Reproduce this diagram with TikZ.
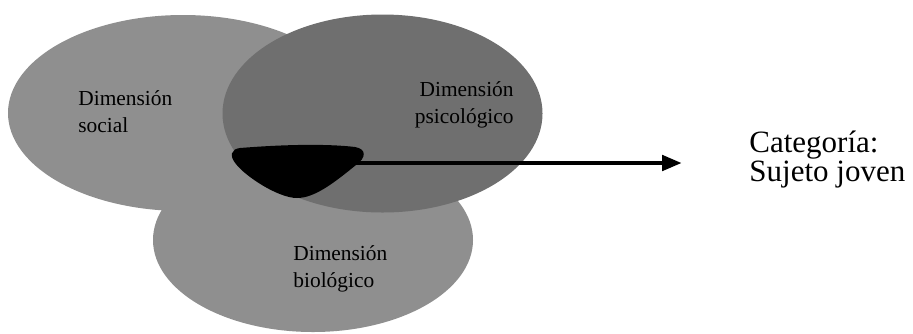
\documentclass[tikz,border=0pt]{standalone}
\usepackage{fontspec}
\setmainfont{Liberation Serif}
\usepackage{tikz}
\usetikzlibrary{arrows.meta}
\definecolor{dimlight}{gray}{0.56}
\definecolor{dimdark}{gray}{0.435}
\newcommand{\dset}[4]{\fill[#4] (#1) ellipse [x radius=#2, y radius=#3];}
\newcommand{\dlabel}[4]{%
  \node[font=\fontsize{10.7}{13.5}\selectfont,inner sep=0pt,align=#3,anchor=base #4] (#1) at (#2)}

\begin{document}
\begin{tikzpicture}[x=0.5pt,y=-0.5pt]
  \useasboundingbox (0,0) rectangle (913,333);
  \dset{183,113}{175}{98}{dimlight}
  \dset{313,240}{160}{92}{dimlight}
  \dset{382.5,113.5}{160}{99}{dimdark}
  % nucleo comun
  \fill (240,148) .. controls (290,144) and (330,144) .. (355,147)
     .. controls (367,149) and (366,158) .. (356,165)
     .. controls (335,182) and (315,198) .. (297,198)
     .. controls (278,198) and (245,176) .. (236,164)
     .. controls (229,156) and (231,149) .. (240,148) -- cycle;
  \dlabel{social}{78,132}{left}{west} {Dimensión\\social};
  \dlabel{psico}{514,123}{right}{east} {Dimensión\\psicológico};
  \dlabel{bio}{293,287}{left}{west} {Dimensión\\biológico};
  \coordinate (nucleo) at (345,163);
  \coordinate (tip) at (682,163);
  \draw[line width=2.4pt,-{Triangle[length=10pt,width=7.5pt]}] (nucleo) -- (tip);
  \node[font=\fontsize{15.5}{14.5}\selectfont,inner sep=0pt,align=left,anchor=base west]
    (cat) at (749,181) {Categoría:\\Sujeto joven};
\end{tikzpicture}
\end{document}
